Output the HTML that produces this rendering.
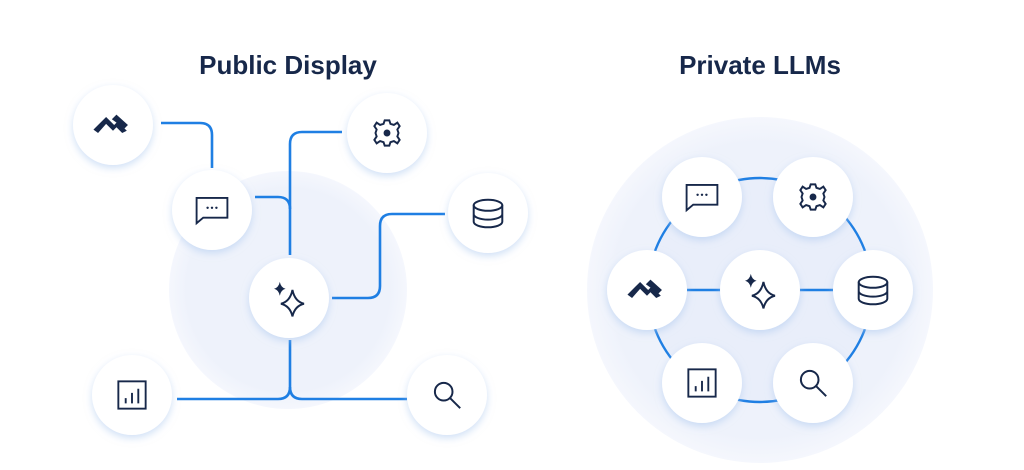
<!DOCTYPE html>
<html><head><meta charset="utf-8"><style>
html,body{margin:0;padding:0;background:#fff;}
body{width:1024px;height:470px;overflow:hidden;position:relative;font-family:"Liberation Sans",sans-serif;}
.t{position:absolute;top:50px;font-weight:bold;font-size:26px;color:#17284a;text-align:center;width:300px;letter-spacing:0px}
</style></head><body>
<div class="t" style="left:138px">Public Display</div>
<div class="t" style="left:610px">Private LLMs</div>
<svg width="1024" height="470" style="position:absolute;left:0;top:0">
<defs>
<filter id="sh" x="-40%" y="-40%" width="180%" height="180%">
<feDropShadow dx="0" dy="3" stdDeviation="4" flood-color="#a9c6ee" flood-opacity="0.55"/>
</filter>
<radialGradient id="bg" cx="50%" cy="50%" r="50%">
<stop offset="0.85" stop-color="#eef2fb"/><stop offset="1" stop-color="#f5f7fd"/>
</radialGradient>
<g id="node"><circle r="40" fill="#fff" filter="url(#sh)"/></g>
<g id="logo" fill="#17284a" transform="scale(1.15)"><path d="M-17 4 L-6 -7 L1 0 L4 -3 L12 5 L8 7 L3 2 L0 5 L-6 -1 L-13 7 Z"/><path d="M-1 -5 L3 -9 L13 0 L10 3 Z"/></g>
<g id="gear" fill="none" stroke="#17284a" stroke-width="1.7" transform="scale(1.15)"><path d="M-2 -11 L2 -11 L3 -8 L6 -7 L9 -9 L11 -6 L9 -3 L10 0 L9 3 L11 6 L9 9 L6 7 L3 8 L2 11 L-2 11 L-3 8 L-6 7 L-9 9 L-11 6 L-9 3 L-10 0 L-9 -3 L-11 -6 L-9 -9 L-6 -7 L-3 -8 Z"/><circle r="3" fill="#17284a" stroke="none"/></g>
<g id="chat" fill="none" stroke="#17284a" stroke-width="1.7" transform="scale(1.1)"><path d="M-14 -11 H14 V7 H-8 L-14 12 Z"/><g fill="#17284a" stroke="none"><circle cx="-4" cy="-2" r="1.1"/><circle cx="0" cy="-2" r="1.1"/><circle cx="4" cy="-2" r="1.1"/></g></g>
<g id="db" fill="none" stroke="#17284a" stroke-width="1.8" transform="scale(1.1)"><ellipse cx="0" cy="-7" rx="13" ry="5"/><path d="M-13 -7 V8 A13 5 0 0 0 13 8 V-7 M-13 1 A13 5 0 0 0 13 1"/></g>
<g id="spark" transform="scale(1.15)"><path d="M-8 -14 Q-7 -9 -3 -8 Q-7 -7 -8 -2 Q-9 -7 -13 -8 Q-9 -9 -8 -14Z" fill="#17284a"/><path d="M3 -7 Q5 3 13 5 Q5 7 3 16 Q1 7 -7 5 Q1 3 3 -7Z" fill="none" stroke="#17284a" stroke-width="1.7"/></g>
<g id="chart" fill="none" stroke="#17284a" stroke-width="1.8" transform="scale(1.05)"><rect x="-13" y="-13" width="26" height="26"/><path d="M-6 8 V3 M0 8 V-2 M6 8 V-6"/></g>
<g id="search" fill="none" stroke="#17284a" stroke-width="1.8" transform="scale(1.1)"><circle cx="-3" cy="-3" r="8"/><path d="M3 3 L12 12"/></g>
</defs>
<!-- left -->
<circle cx="288" cy="290" r="119" fill="url(#bg)"/>
<g fill="none" stroke="#1f7fe3" stroke-width="2.6">
<path d="M161 123 H200 Q212 123 212 135 V168"/>
<path d="M342 132 H302 Q290 132 290 144 V255"/>
<path d="M255 197 H278 Q290 197 290 209"/>
<path d="M445 214 H392 Q380 214 380 226 V286 Q380 298 368 298 H332"/>
<path d="M290 340 V387 Q290 399 278 399 H177"/>
<path d="M290 387 Q290 399 302 399 H407"/>
</g>
<use href="#node" x="113" y="125"/><use href="#logo" x="113" y="125"/>
<use href="#node" x="387" y="133"/><use href="#gear" x="387" y="133"/>
<use href="#node" x="212" y="210"/><use href="#chat" x="212" y="210"/>
<use href="#node" x="488" y="213"/><use href="#db" x="488" y="213"/>
<use href="#node" x="289" y="298"/><use href="#spark" x="289" y="298"/>
<use href="#node" x="132" y="395"/><use href="#chart" x="132" y="395"/>
<use href="#node" x="447" y="395"/><use href="#search" x="447" y="395"/>
<!-- right -->
<circle cx="760" cy="290" r="173" fill="url(#bg)"/>
<circle cx="760" cy="290" r="112" fill="#e9eefa" stroke="#1f7fe3" stroke-width="2.4"/>
<path d="M687 290 H833" stroke="#1f7fe3" stroke-width="2.4"/>
<use href="#node" x="702" y="197"/><use href="#chat" x="702" y="197"/>
<use href="#node" x="813" y="197"/><use href="#gear" x="813" y="197"/>
<use href="#node" x="647" y="290"/><use href="#logo" x="647" y="290"/>
<use href="#node" x="760" y="290"/><use href="#spark" x="760" y="290"/>
<use href="#node" x="873" y="290"/><use href="#db" x="873" y="290"/>
<use href="#node" x="702" y="383"/><use href="#chart" x="702" y="383"/>
<use href="#node" x="813" y="383"/><use href="#search" x="813" y="383"/>
</svg>
</body></html>
